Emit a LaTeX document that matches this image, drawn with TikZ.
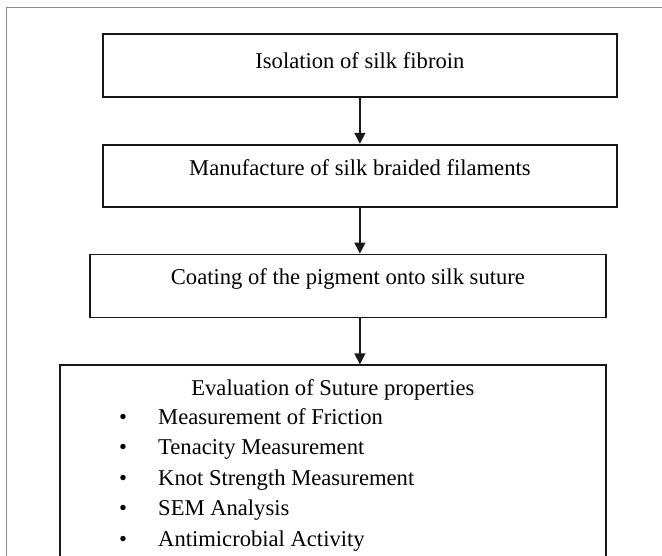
\documentclass[tikz,border=0pt]{standalone}
\usepackage{fontspec}
\setmainfont{Liberation Serif}
\usetikzlibrary{positioning}
\usetikzlibrary{arrows.meta}

\begin{document}
\begin{tikzpicture}[x=1pt, y=1pt, font=\fontsize{22.6}{26}\selectfont,
	flowbox/.style={rectangle, draw=black!90, line width=1.8pt, inner sep=0pt, minimum width=514pt},
	flowarrow/.style={draw=black!90, line width=1.3pt, -{Triangle[length=11pt, width=11pt]}},
	node distance = 46pt]
	\useasboundingbox (0,0) rectangle (662,556);
	\draw[black!45, line width=1pt] (6,0) -- (6,548) -- (662,548);
	\node[flowbox, text height=35pt, text depth=28pt, anchor=north west] (isolation) at (102,523) {Isolation of silk fibroin};
	\node[flowbox, text height=31pt, text depth=31pt] (manufacture) [below = of isolation] {Manufacture of silk braided filaments};
	\node[flowbox, text height=30pt, text depth=33pt, minimum width=516pt] (coating) [below = of manufacture, xshift=-12pt] {Coating of the pigment onto silk suture};
	\node[flowbox, minimum width=546pt, minimum height=195pt] (evaluation) [below = of coating, xshift=-15pt] {};
	\node[anchor=base, inner sep=0pt] (heading) at ([yshift=-31pt]evaluation.north) {Evaluation of Suture properties};
	\foreach \task [count=\i] in {Measurement of Friction, Tenacity Measurement, Knot Strength Measurement, SEM Analysis, Antimicrobial Activity}
		\node[anchor=base west, inner sep=0pt] (task\i) at ([xshift=60pt, yshift={-60pt-30.5pt*(\i-1)}]evaluation.north west) {\makebox[39pt][l]{\textbullet}\task};
	\draw[flowarrow] (isolation.south) -- (manufacture.north);
	\draw[flowarrow] (manufacture.south) -- (manufacture.south |- coating.north);
	\draw[flowarrow] (coating.south -| manufacture.south) -- (manufacture.south |- evaluation.north);
\end{tikzpicture}
\end{document}
